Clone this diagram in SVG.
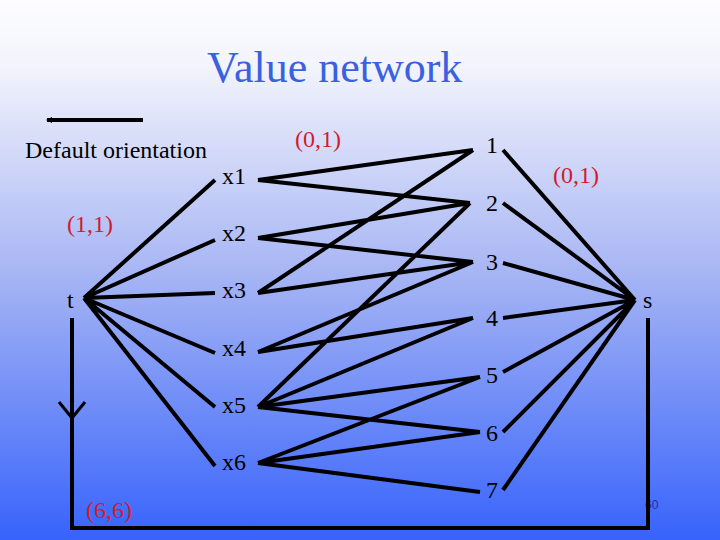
<svg xmlns="http://www.w3.org/2000/svg" width="720" height="540" viewBox="0 0 720 540">
<defs>
<linearGradient id="bg" x1="0" y1="0" x2="0" y2="540" gradientUnits="userSpaceOnUse">
<stop offset="0" stop-color="#fdfdff"/>
<stop offset="0.12" stop-color="#f3f4fc"/>
<stop offset="0.5" stop-color="#a8b6f4"/>
<stop offset="1" stop-color="#3763fc"/>
</linearGradient>
<marker id="ah" markerWidth="6" markerHeight="6" refX="1" refY="3" orient="auto" markerUnits="userSpaceOnUse">
<path d="M6,0 L0,3 L6,6 z" fill="#000"/>
</marker>
<style>
.lbl{font-family:"Liberation Serif","Times New Roman",serif;font-size:24px;fill:#000}
.red{font-family:"Liberation Serif","Times New Roman",serif;font-size:24px;fill:#d01c2c}
.title{font-family:"Liberation Serif","Times New Roman",serif;font-size:44px;fill:#3a62e0}
.e{stroke:#000;stroke-width:4;fill:none}
</style>
</defs>
<rect width="720" height="540" fill="url(#bg)"/>
<text class="title" x="207" y="82">Value network</text>
<g id="legend">
<line x1="47" y1="120" x2="143" y2="120" stroke="#000" stroke-width="4" marker-start="url(#ah)"/>
<text class="lbl" x="25" y="158">Default orientation</text>
</g>
<text class="red" x="67" y="232">(1,1)</text>
<text class="red" x="295" y="147">(0,1)</text>
<text class="red" x="553" y="183">(0,1)</text>
<text class="red" x="86" y="518">(6,6)</text>
<text x="645" y="509" font-family="Liberation Sans, Arial, sans-serif" font-size="12" fill="#22309a">60</text>
<g id="connectors">
<path class="e" d="M84,298 L215,180 M84,298 L215,240 M84,298 L215,293 M84,298 L215,353 M84,298 L215,407 M84,298 L215,466"/>
<path class="e" d="M258,180 L473,150 M258,180 L470,203 M258,238 L470,203 M258,238 L473,262 M258,293 L473,150 M258,293 L473,262 M258,352 L473,262 M258,352 L473,318 M258,407 L470,203 M258,407 L473,318 M258,407 L480,377 M258,407 L480,432 M258,463 L480,377 M258,463 L480,432 M258,463 L480,492"/>
<path class="e" d="M503,150 L635,300 M503,203 L635,300 M503,263 L635,300 M503,318 L635,300 M503,372 L635,300 M503,432 L635,300 M503,490 L635,300"/>
<polyline class="e" points="72,318 72,528 648,528 648,318"/>
<polyline points="59,402 72,418 85,402" fill="none" stroke="#000" stroke-width="3"/>
</g>
<g id="t"><text class="lbl" x="67" y="308">t</text></g>
<g id="s"><text class="lbl" x="643" y="308">s</text></g>
<g id="x1"><text class="lbl" x="222" y="184">x1</text></g>
<g id="x2"><text class="lbl" x="222" y="241">x2</text></g>
<g id="x3"><text class="lbl" x="222" y="298">x3</text></g>
<g id="x4"><text class="lbl" x="222" y="356">x4</text></g>
<g id="x5"><text class="lbl" x="222" y="413">x5</text></g>
<g id="x6"><text class="lbl" x="222" y="470">x6</text></g>
<g id="n1"><text class="lbl" x="486" y="153">1</text></g>
<g id="n2"><text class="lbl" x="486" y="211">2</text></g>
<g id="n3"><text class="lbl" x="486" y="270">3</text></g>
<g id="n4"><text class="lbl" x="486" y="326">4</text></g>
<g id="n5"><text class="lbl" x="486" y="383">5</text></g>
<g id="n6"><text class="lbl" x="486" y="441">6</text></g>
<g id="n7"><text class="lbl" x="486" y="498">7</text></g>
</svg>
